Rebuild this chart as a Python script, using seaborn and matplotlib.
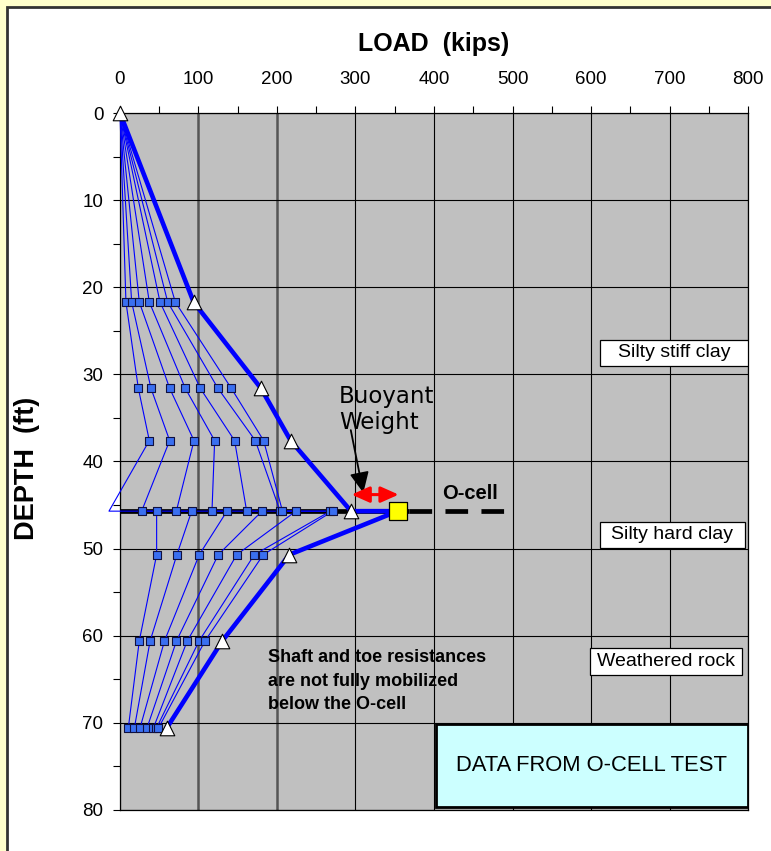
import pandas as pd
import matplotlib.pyplot as plt
import matplotlib.patches as mpatches
from matplotlib.ticker import MultipleLocator
import seaborn as sns

# ===== data =====
# gauge levels (ft); the O-cell level is listed twice (above / below the cell)
depth = [0, 21.7, 31.6, 37.6, 45.7, 45.7, 50.7, 60.6, 70.6]

# load in each of the 7 load steps at every level (kips)
load_0 = [0, 0, 0, 0, 0, 0, 0]
load_217 = [7.6, 14.9, 24.6, 37.4, 51.0, 60.8, 70.5]
load_316 = [23.4, 39.5, 63.3, 83.2, 102.3, 124.8, 141.8]
load_376 = [37.4, 63.3, 94.3, 120.6, 146.0, 172.4, 183.0]
load_oc_up = [-14.0, 27.6, 71.8, 117.2, 161.4, 204.0, 207.0]
load_oc_dn = [46.7, 91.3, 136.3, 180.9, 224.2, 268.0, 271.0]
load_507 = [46.7, 72.5, 101.0, 125.2, 148.7, 171.1, 182.5]
load_606 = [24.6, 38.4, 56.7, 72.0, 85.7, 100.8, 108.3]
load_706 = [10.6, 18.3, 25.5, 34.4, 42.5, 46.5, 49.0]

# max load curve (white triangles), O-cell point = yellow square
max_depth = [0, 21.7, 31.6, 37.6, 45.7, 45.7, 50.7, 60.6, 70.6]
max_load = [0, 93.8, 179.6, 217.4, 294.3, 353.7, 215.7, 130.3, 59.5]
ocell_depth = 45.7
ocell_load = 353.7

x_ticks = [0, 100, 200, 300, 400, 500, 600, 700, 800]
y_ticks = [0, 10, 20, 30, 40, 50, 60, 70, 80]

# soil layer labels
layer_names = ["Silty stiff clay", "Silty hard clay", "Weathered rock"]

# ===== long table =====
levels = [load_0, load_217, load_316, load_376, load_oc_up, load_oc_dn,
          load_507, load_606, load_706]
rows = []
for step in range(7):
    for j, lv in enumerate(levels):
        rows.append({"step": step, "order": j, "load": lv[step], "depth": depth[j]})
df = pd.DataFrame(rows)

curve = pd.DataFrame({"load": max_load, "depth": max_depth})
tri = curve[~((curve["load"] == ocell_load) & (curve["depth"] == ocell_depth))]

plt.rcParams["font.family"] = ["Liberation Sans", "DejaVu Sans"]
plt.rcParams["lines.scale_dashes"] = False

fig = plt.figure(figsize=(7.71, 8.51), dpi=100, facecolor="#FFFFCC")
fig.add_artist(mpatches.Rectangle((7 / 771, -0.1), 1.2, 1 - 7 / 851 + 0.1,
                                  transform=fig.transFigure, fc="white",
                                  ec="#333333", lw=2, zorder=0))

ax = fig.add_axes([0.1556, 0.0482, 0.8146, 0.819])
ax.set_facecolor("#C0C0C0")

# O-cell level line (solid under the points, dashed beyond)
ax.plot([0, 368], [ocell_depth, ocell_depth], color="black", lw=3.4, zorder=2,
        solid_capstyle="butt")
ax.plot([368, 490], [ocell_depth, ocell_depth], color="black", lw=3.4, zorder=2,
        dashes=(16.3, 9.6), dash_capstyle="butt", clip_on=False)

# thin lines for each load step
sns.lineplot(data=df, x="load", y="depth", units="step", estimator=None,
             sort=False, color="#0000FF", lw=0.8, ax=ax, zorder=3)
for ln in ax.lines[2:]:
    ln.set_clip_on(False)
sns.scatterplot(data=df[df["depth"] > 0], x="load", y="depth", marker="s", s=30,
                color="#3A6FF0", edgecolor="#101040", linewidth=0.8, ax=ax, zorder=4)

# max load curve
sns.lineplot(data=curve, x="load", y="depth", estimator=None, sort=False,
             color="#0000FF", lw=3.3, ax=ax, zorder=5)
sns.scatterplot(data=tri, x="load", y="depth", marker="^", s=110, color="white",
                edgecolor="black", linewidth=0.8, ax=ax, zorder=6, clip_on=False)
ax.scatter([ocell_load], [ocell_depth], marker="s", s=150, color="#FFFF00",
           edgecolor="black", linewidth=0.9, zorder=7)

ax.set_xlim(0, 800)
ax.set_ylim(80, 0)
ax.xaxis.tick_top()
ax.xaxis.set_label_position("top")
ax.set_xticks(x_ticks)
ax.set_yticks(y_ticks)
ax.xaxis.set_minor_locator(MultipleLocator(50))
ax.yaxis.set_minor_locator(MultipleLocator(5))
ax.tick_params(axis="x", which="both", direction="out", length=5, width=0.8,
               labelsize=13.5, pad=13)
ax.tick_params(axis="y", which="both", direction="out", length=5, width=0.8,
               labelsize=13.5, pad=7)

ax.grid(True, which="major", color="black", lw=0.8)
for i, gl in enumerate(ax.get_xgridlines()):
    if i in (1, 2):
        gl.set_color("#555555")
        gl.set_linewidth(1.8)
ax.set_axisbelow(True)
for sp in ax.spines.values():
    sp.set_color("black")
    sp.set_linewidth(0.9)

ax.set_xlabel("LOAD  (kips)", fontsize=18, fontweight="bold", va="center")
ax.xaxis.set_label_coords(0.5, 1.099)
ax.set_ylabel("DEPTH  (ft)", fontsize=19.5, fontweight="bold", va="center")
ax.yaxis.set_label_coords(-0.148, 0.49)

# layer labels in white boxes
box_x = [611.5, 611.5, 598.7]
box_w = [188.5, 184.5, 193.7]
box_y = [26.0, 46.9, 61.35]
box_h = [3.0, 3.0, 3.1]
for name, bx, bw, by, bh in zip(layer_names, box_x, box_w, box_y, box_h):
    ax.add_patch(mpatches.Rectangle((bx, by), bw, bh, fc="white", ec="black",
                                    lw=0.9, zorder=8))
    ax.text(bx + bw / 2, by + bh / 2, name, fontsize=14, ha="center",
            va="center", zorder=9)

ax.text(188, 61.55, "Shaft and toe resistances\nare not fully mobilized\nbelow the O-cell",
        fontsize=13, fontweight="bold", ha="left", va="top", linespacing=1.5, zorder=8)

ax.text(279, 31.2, "Buoyant\nWeight", fontsize=16.5, family=["DejaVu Sans"],
        ha="left", va="top", linespacing=1.2, zorder=8)
ax.annotate("", xy=(310, 43.6), xytext=(294, 36.4),
            arrowprops=dict(arrowstyle="-|>,head_length=0.9,head_width=0.42",
                            color="black", lw=1.3, mutation_scale=14,
                            shrinkA=0, shrinkB=0), zorder=8)
ax.annotate("", xy=(355, 43.8), xytext=(295, 43.8),
            arrowprops=dict(arrowstyle="<|-|>,head_length=0.9,head_width=0.4",
                            color="red", lw=2.2, mutation_scale=12,
                            shrinkA=0, shrinkB=0), zorder=8)
ax.text(410, 43.7, "O-cell", fontsize=14.5, fontweight="bold", ha="left", va="center", zorder=8)

ax.add_patch(mpatches.Rectangle((402, 70.1), 398, 9.6, fc="#CCFFFF", ec="black",
                                lw=2, zorder=8))
ax.text(601, 74.9, "DATA FROM O-CELL TEST", fontsize=15.8, ha="center", va="center", zorder=9)

fig.savefig("out.png", dpi=100, facecolor=fig.get_facecolor())
